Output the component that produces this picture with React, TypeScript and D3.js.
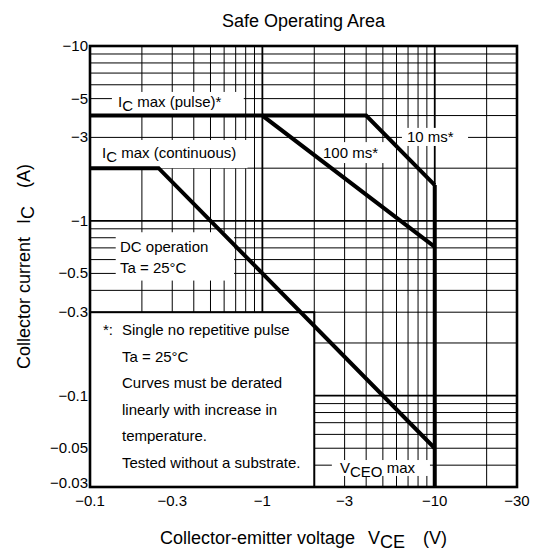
import * as d3 from 'd3';

// Safe Operating Area chart (log-log)

const xTickValues = [0.1, 0.3, 1, 3, 10, 30];
const yTickValues = [10, 5, 3, 1, 0.5, 0.3, 0.1, 0.05, 0.03];

const xGridValues = [
  0.1, 0.2, 0.3, 0.4, 0.5, 0.6, 0.7, 0.8, 0.9,
  1, 2, 3, 4, 5, 6, 7, 8, 9,
  10, 20, 30,
];
const yGridValues = [
  0.03, 0.04, 0.05, 0.06, 0.07, 0.08, 0.09,
  0.1, 0.2, 0.3, 0.4, 0.5, 0.6, 0.7, 0.8, 0.9,
  1, 2, 3, 4, 5, 6, 7, 8, 9, 10,
];
const xDecades = [1, 10];
const yDecades = [1, 0.1];

// curves: [VCE (V), IC (A)], magnitudes
const dcCurve: [number, number][] = [[0.1, 2], [0.25, 2], [10, 0.05]];
const pulse100ms: [number, number][] = [[0.1, 4], [1, 4], [10, 0.71]];
const pulse10ms: [number, number][] = [[1, 4], [4, 4], [10, 1.6]];
const vceoLimit: [number, number][] = [[10, 1.6], [10, 0.03]];

// white backgrounds behind labels, [v0, v1, i0, i1]
const labelMasks: [number, number, number, number][] = [
  [0.134, 0.78, 4.0, 5.46],
  [0.107, 0.82, 2.0, 2.9],
  [2.22, 5.14, 2.14, 2.82],
  [6.45, 15.6, 2.68, 3.4],
  [0.141, 0.685, 0.455, 0.86],
  [2.53, 9.38, 0.0347, 0.0428],
];
const noteBox: [number, number, number, number] = [0.1, 2, 0.03, 0.3];

const noteLines = [
  'Single no repetitive pulse',
  'Ta = 25°C',
  'Curves must be derated',
  'linearly with increase in',
  'temperature.',
  'Tested without a substrate.',
];

const W = 538;
const H = 554;
const FONT = 'Liberation Sans, Arial, Helvetica, sans-serif';

const x = d3.scaleLog().domain([0.1, 30]).range([90, 517]);
const y = d3.scaleLog().domain([0.03, 10]).range([487, 46]);

const line = d3
  .line<[number, number]>()
  .x((d) => x(d[0]))
  .y((d) => y(d[1]));

const fmt = (v: number) => `\u2212${v}`;

export default function App() {
  const [x0, x1] = x.range();
  const [y0, y1] = y.range();
  const curves = [dcCurve, pulse100ms, pulse10ms, vceoLimit];

  return (
    <svg
      width={W}
      height={H}
      style={{ position: 'absolute', left: 0, top: 0, background: '#fff' }}
      fontFamily={FONT}
    >
      {/* grid */}
      {xGridValues.map((v) => (
        <line
          key={`gx${v}`}
          x1={x(v)}
          x2={x(v)}
          y1={y1}
          y2={y0}
          stroke="#000"
          strokeWidth={xDecades.includes(v) ? 1.8 : 1}
        />
      ))}
      {yGridValues.map((v) => (
        <line
          key={`gy${v}`}
          x1={x0}
          x2={x1}
          y1={y(v)}
          y2={y(v)}
          stroke="#000"
          strokeWidth={yDecades.includes(v) ? 1.8 : 1}
        />
      ))}

      {/* label backgrounds */}
      {labelMasks.map(([a, b, c, d], i) => (
        <rect
          key={`m${i}`}
          x={x(a)}
          y={y(d)}
          width={x(b) - x(a)}
          height={y(c) - y(d)}
          fill="#fff"
        />
      ))}

      {/* note box */}
      <rect
        x={x(noteBox[0])}
        y={y(noteBox[3])}
        width={x(noteBox[1]) - x(noteBox[0])}
        height={y(noteBox[2]) - y(noteBox[3])}
        fill="#fff"
        stroke="#000"
        strokeWidth={2}
      />

      {/* curves */}
      {curves.map((c, i) => (
        <path
          key={`c${i}`}
          d={line(c) ?? ''}
          fill="none"
          stroke="#000"
          strokeWidth={4}
          strokeLinejoin="miter"
        />
      ))}

      {/* frame */}
      <rect
        x={x0}
        y={y1}
        width={x1 - x0}
        height={y0 - y1}
        fill="none"
        stroke="#000"
        strokeWidth={2.6}
      />

      {/* tick labels */}
      {yTickValues.map((v, i) => (
        <text
          key={`ty${v}`}
          x={x0 - 2}
          y={y(v) + (i === yTickValues.length - 1 ? 1 : 5)}
          textAnchor="end"
          fontSize={15}
        >
          {fmt(v)}
        </text>
      ))}
      {xTickValues.map((v) => (
        <text
          key={`tx${v}`}
          x={x(v)}
          y={y0 + 19}
          textAnchor="middle"
          fontSize={15}
        >
          {fmt(v)}
        </text>
      ))}

      {/* title & axis titles */}
      <text x={(x0 + x1) / 2} y={27} textAnchor="middle" fontSize={18}>
        Safe Operating Area
      </text>
      <text x={(x0 + x1) / 2} y={544} textAnchor="middle" fontSize={18}>
        Collector-emitter voltage
        <tspan dx={13}>V</tspan>
        <tspan dy={4}>CE</tspan>
        <tspan dy={-4} dx={18}>(V)</tspan>
      </text>
      <text
        transform={`translate(30,${(y0 + y1) / 2}) rotate(-90)`}
        textAnchor="middle"
        fontSize={18}
      >
        Collector current
        <tspan dx={13}>I</tspan>
        <tspan dy={4}>C</tspan>
        <tspan dy={-4} dx={18}>(A)</tspan>
      </text>

      {/* curve labels */}
      <g fontSize={15}>
        <text x={118} y={107}>
          I<tspan dy={4}>C</tspan>
          <tspan dy={-4}> max (pulse)*</tspan>
        </text>
        <text x={102} y={158}>
          I<tspan dy={4}>C</tspan>
          <tspan dy={-4}> max (continuous)</tspan>
        </text>
        <text x={323} y={158}>100 ms*</text>
        <text x={407} y={142}>10 ms*</text>
        <text x={120} y={252}>DC operation</text>
        <text x={120} y={273}>Ta = 25°C</text>
        <text x={340} y={473}>
          V<tspan dy={4}>CEO</tspan>
          <tspan dy={-4}> max</tspan>
        </text>
        <text x={103} y={335}>*:</text>
        {noteLines.map((t, i) => (
          <text key={`n${i}`} x={122} y={335 + i * 26.6}>
            {t}
          </text>
        ))}
      </g>
    </svg>
  );
}
